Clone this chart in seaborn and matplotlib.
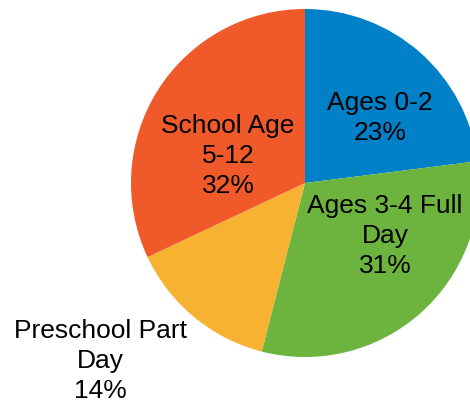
import matplotlib
matplotlib.use("Agg")
import matplotlib.pyplot as plt
import seaborn as sns

categories = ["Ages 0-2", "Ages 3-4 Full\nDay", "Preschool Part\nDay", "School Age\n5-12"]
values = [23, 31, 14, 32]
colors = ["#0080C6", "#6DB43F", "#F7B232", "#F05A2A"]

sns.set_theme(style="white")
plt.rcParams["font.family"] = ["Liberation Sans", "DejaVu Sans"]

W, H = 470, 402
fig = plt.figure(figsize=(W / 100, H / 100), dpi=100)
ax = fig.add_axes([0, 0, 1, 1])

cx, cy, r = 305, H - 184, 174
wedges, _ = ax.pie(values, colors=colors, startangle=90, counterclock=False,
                   center=(cx, cy), radius=r, frame=True,
                   wedgeprops=dict(linewidth=0))
ax.set_xlim(0, W)
ax.set_ylim(0, H)
ax.set_aspect("equal")
ax.axis("off")

label_pos = [(380, 118), (385, 236), (100, 361), (228, 156)]
for cat, v, (x, y) in zip(categories, values, label_pos):
    ax.text(x, H - y, f"{cat}\n{v}%", ha="center", va="center",
            fontsize=19, linespacing=1.3, color="black")

fig.savefig("out.png", dpi=100)
